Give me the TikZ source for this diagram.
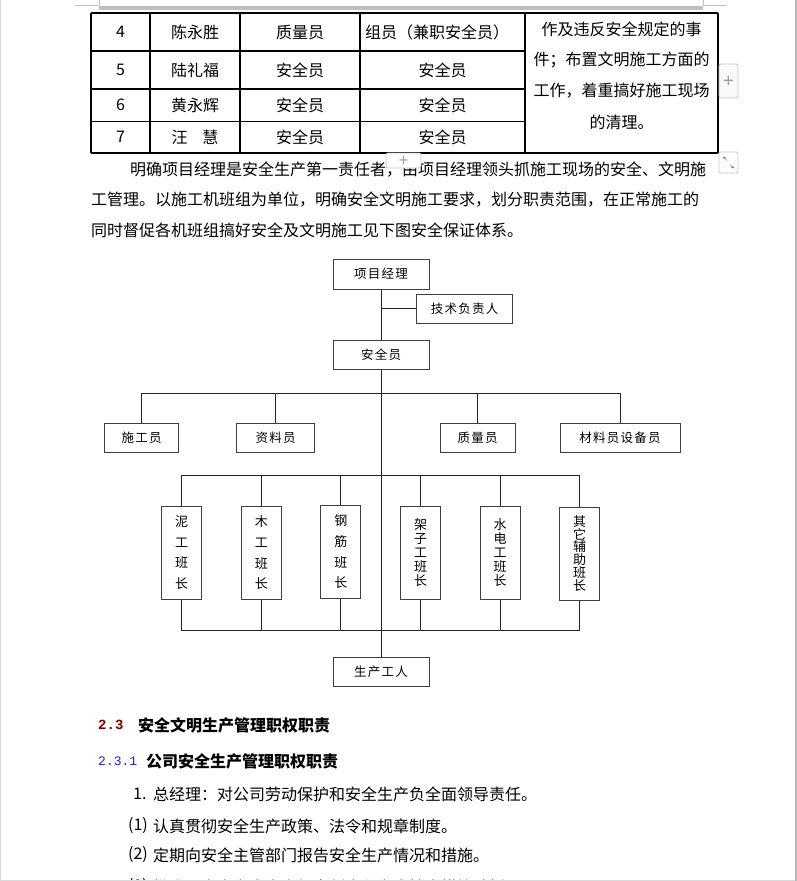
\documentclass[tikz,border=0pt]{standalone}
\usepackage{fontspec}
\setmainfont{Noto Sans CJK SC}
\newfontfamily\diaf[LetterSpace=10]{Noto Sans CJK SC}
\newfontfamily\monof{Liberation Mono}
\newfontfamily\uif{DejaVu Sans}
\usetikzlibrary{arrows.meta}
\definecolor{hred}{RGB}{128,0,0}
\definecolor{hblue}{RGB}{30,30,240}
\definecolor{uigray}{RGB}{200,200,200}
\tikzset{
  txt/.style={inner sep=0pt, anchor=west, font=\fontsize{16}{16}\selectfont},
  ctxt/.style={inner sep=0pt, anchor=center, font=\fontsize{16}{16}\selectfont},
  tline/.style={line width=1.2pt, black},
  box/.style={draw=black!75, line width=0.9pt, fill=white, inner sep=0pt,
              minimum height=29pt, font=\diaf\fontsize{12.5}{14}\selectfont},
  vbox/.style={draw=black!75, line width=0.9pt, fill=white, inner sep=0pt,
              minimum width=40pt, minimum height=93pt, align=center},
  conn/.style={draw=black!85, line width=0.9pt},
  uibtn/.style={draw=uigray, line width=0.8pt, rounded corners=2pt},
  uiplus/.style={inner sep=0pt, text=gray!80, font=\uif\fontsize{15}{15}\selectfont},
}
\begin{document}
\begin{tikzpicture}[x=1pt,y=-1pt]
\useasboundingbox (0,0) rectangle (797,881);
\clip (0,0) rectangle (797,881);
\fill[white] (0,0) rectangle (797,881);

% top header strip
\node[inner sep=0pt, text=gray!70, font=\fontsize{14}{14}\selectfont] (hdr) at (458,-8) {安全文明施工保证体系};
\fill[gray!50] (99,5.7) rectangle (703,10);
\draw[gray!50, line width=0.8pt] (75,5) -- (99,5) (99,0) -- (99,5) (703,0) -- (703,5) (703,5) -- (727,5);

% table
\draw[tline] (91,13) -- (718,13);
\draw[tline] (91,51) -- (525,51);
\draw[tline] (91,89) -- (525,89);
\draw[tline] (91,121.5) -- (525,121.5);
\draw[tline] (91,153) -- (718,153);
\foreach \x in {91,150,240,360,525,718} { \draw[tline] (\x,13) -- (\x,153); }

\node[ctxt] (t41) at (120.5,32) {4};
\node[ctxt] (t42) at (195,32) {陈永胜};
\node[ctxt] (t43) at (300,32) {质量员};
\node[ctxt] (t44) at (437,32) {组员（兼职安全员）};
\node[ctxt] (t51) at (120.5,70) {5};
\node[ctxt] (t52) at (195,70) {陆礼福};
\node[ctxt] (t53) at (300,70) {安全员};
\node[ctxt] (t54) at (442.5,70) {安全员};
\node[ctxt] (t61) at (120.5,105) {6};
\node[ctxt] (t62) at (195,105) {黄永辉};
\node[ctxt] (t63) at (300,105) {安全员};
\node[ctxt] (t64) at (442.5,105) {安全员};
\node[ctxt] (t71) at (120.5,137) {7};
\node[ctxt] (t72) at (195,137) {汪\hspace{15pt}慧};
\node[ctxt] (t73) at (300,137) {安全员};
\node[ctxt] (t74) at (442.5,137) {安全员};
\node[ctxt] (r1) at (621.5,29) {作及违反安全规定的事};
\node[ctxt] (r2) at (621.5,60) {件；布置文明施工方面的};
\node[ctxt] (r3) at (621.5,91) {工作，着重搞好施工现场};
\node[ctxt] (r4) at (621.5,122) {的清理。};

% paragraph
\node[txt] (p1) at (130,170) {明确项目经理是安全生产第一责任者，由项目经理领头抓施工现场的安全、文明施};
\node[txt] (p2) at (91,200) {工管理。以施工机班组为单位，明确安全文明施工要求，划分职责范围，在正常施工的};
\node[txt] (p3) at (91,230) {同时督促各机班组搞好安全及文明施工见下图安全保证体系。};

% UI widgets
\draw[uibtn, fill=gray!5] (719,64) rectangle (738,98);
\node[uiplus] (plusR) at (728.5,81) {+};
\draw[uibtn, fill=white] (386,153) rectangle (421,168);
\node[uiplus, font=\uif\fontsize{13}{13}\selectfont] (plusT) at (403.5,160) {+};
\draw[uibtn, fill=white] (719,152) rectangle (738,173);
\coordinate (ra1) at (727,160.5);
\coordinate (ra2) at (723,156.5);
\coordinate (rb1) at (730,164.5);
\coordinate (rb2) at (734,168.5);
\draw[gray, line width=0.6pt, -{Stealth[length=3pt,width=3pt]}] (ra1) -- (ra2);
\draw[gray, line width=0.6pt, -{Stealth[length=3pt,width=3pt]}] (rb1) -- (rb2);

% org chart
\node[box, minimum width=96pt, minimum height=30pt] (pm) at (381,274) {项目经理};
\node[box, minimum width=96pt] (tech) at (464.5,308.5) {技术负责人};
\node[box, minimum width=96pt] (safe) at (381,354.5) {安全员};
\node[box, minimum width=74pt] (sg) at (141.5,437.5) {施工员};
\node[box, minimum width=78pt] (zl) at (275.5,437.5) {资料员};
\node[box, minimum width=75pt] (zly) at (477.5,437.5) {质量员};
\node[box, minimum width=120pt] (cl) at (620,437.5) {材料员设备员};

\node[vbox, font=\diaf\fontsize{13}{20.7}\selectfont] (v1) at (181.7,552.7) {泥\\工\\班\\长};
\node[vbox, font=\diaf\fontsize{13}{20.7}\selectfont] (v2) at (261.3,552.7) {木\\工\\班\\长};
\node[vbox, font=\diaf\fontsize{13}{20.7}\selectfont] (v3) at (340.9,551.7) {钢\\筋\\班\\长};
\node[vbox, font=\diaf\fontsize{13}{14}\selectfont] (v4) at (420.5,552.7) {架\\子\\工\\班\\长};
\node[vbox, font=\diaf\fontsize{13}{14}\selectfont] (v5) at (500.1,552.7) {水\\电\\工\\班\\长};
\node[vbox, font=\diaf\fontsize{13}{11.7}\selectfont] (v6) at (579.7,553.5) {其\\它\\辅\\助\\班\\长};

\node[box, minimum width=96pt] (gw) at (381,672.2) {生产工人};

\coordinate (b1) at (0,393);
\coordinate (b2) at (0,475.3);
\coordinate (b3) at (0,630.3);

\draw[conn] (pm) -- (safe);
\draw[conn] (pm.south |- tech.west) -- (tech.west);
\draw[conn] (safe) -- (gw);
\draw[conn] (sg.north) -- (sg.north |- b1) -- (cl.north |- b1) -- (cl.north);
\draw[conn] (zl.north |- b1) -- (zl.north);
\draw[conn] (zly.north |- b1) -- (zly.north);
\draw[conn] (v1.north) -- (v1.north |- b2) -- (v6.north |- b2) -- (v6.north);
\foreach \n in {v2,v3,v4,v5} { \draw[conn] (\n.north |- b2) -- (\n.north); }
\draw[conn] (v1.south) -- (v1.south |- b3) -- (v6.south |- b3) -- (v6.south);
\foreach \n in {v2,v3,v4,v5} { \draw[conn] (\n.south) -- (\n.south |- b3); }

% headings and list
\node[inner sep=0pt, anchor=west, text=hred, font=\monof\bfseries\fontsize{14}{14}\selectfont] (h23) at (98,725) {2.3};
\node[txt, font=\bfseries\fontsize{16}{16}\selectfont] (h23t) at (138,725) {安全文明生产管理职权职责};
\node[inner sep=0pt, anchor=west, text=hblue, font=\monof\fontsize{13}{13}\selectfont] (h231) at (98,761) {2.3.1};
\node[txt, font=\bfseries\fontsize{16}{16}\selectfont] (h231t) at (146,761) {公司安全生产管理职权职责};

\node[txt] (l1n) at (133,794) {1.};
\node[txt] (l1) at (153,794) {总经理：对公司劳动保护和安全生产负全面领导责任。};
\node[txt] (l2n) at (128,826) {(1)};
\node[txt] (l2) at (153,826) {认真贯彻安全生产政策、法令和规章制度。};
\node[txt] (l3n) at (128,855) {(2)};
\node[txt] (l3) at (153,855) {定期向安全主管部门报告安全生产情况和措施。};
\node[txt] (l4n) at (128,887) {(3)};
\node[txt] (l4) at (153,887) {批准、审定安全生产规章制度和安全技术措施计划。};

% window frame
\draw[gray!30, line width=1pt] (0.5,0) -- (0.5,881);
\draw[gray!30, line width=1pt] (0,880.5) -- (797,880.5);
\draw[gray!55, line width=1.2pt] (796,0) -- (796,881);
\end{tikzpicture}
\end{document}
